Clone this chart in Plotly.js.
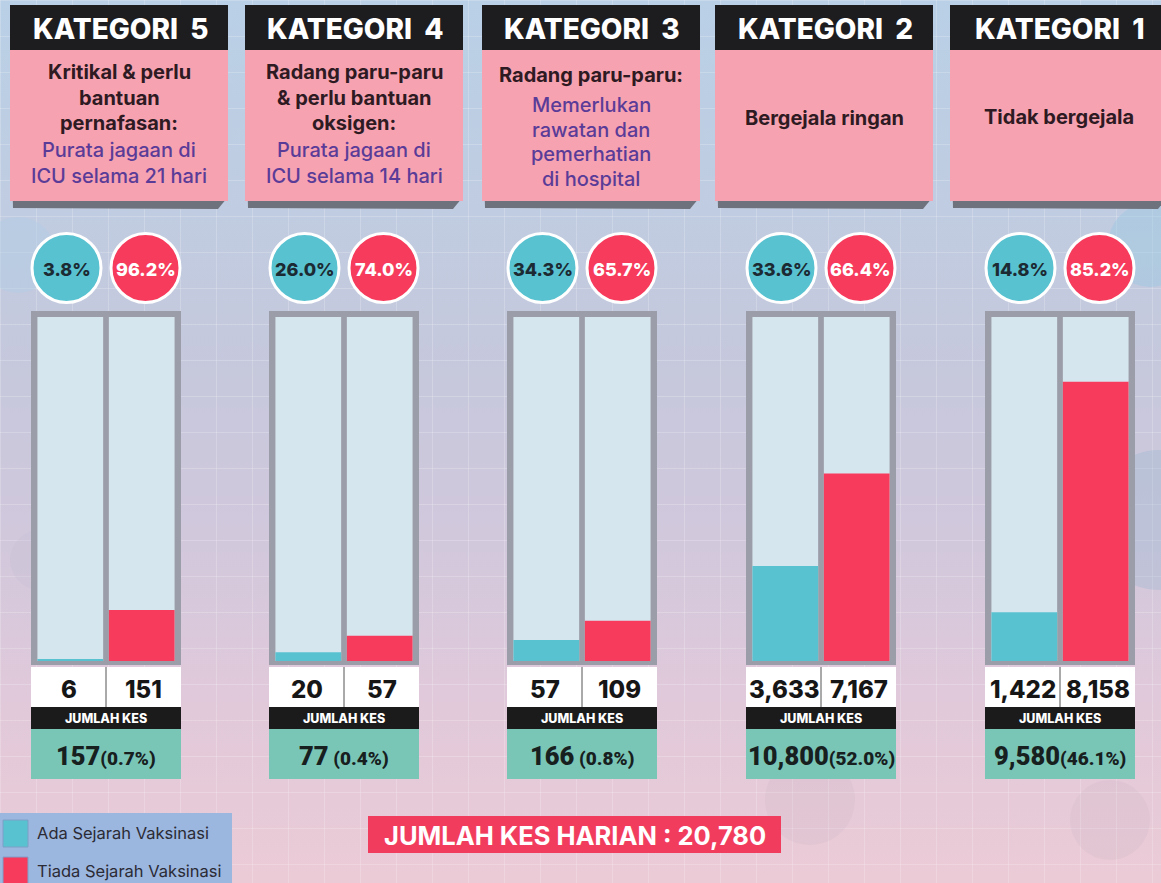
<!DOCTYPE html>
<html>
<head>
<meta charset="utf-8">
<script src="https://cdn.plot.ly/plotly-3.0.1.min.js"></script>
<style>
html,body{margin:0;padding:0;width:1161px;height:883px;overflow:hidden;}
body{background:
 repeating-linear-gradient(to right, rgba(255,255,255,0.20) 0 1px, transparent 1px 36px),
 repeating-linear-gradient(to bottom, rgba(255,255,255,0.20) 0 1px, transparent 1px 36px),
 linear-gradient(to bottom, #b9d0e6 0%, #c0cce1 24%, #c6c8dc 42%, #d2c8dc 62%, #e1c9da 80%, #ebcbd6 100%);}
#chart{width:1161px;height:883px;}
</style>
</head>
<body>
<div id="chart"></div>
<script>
// ---------------- DATA ----------------
const categories   = ['KATEGORI 5', 'KATEGORI 4', 'KATEGORI 3', 'KATEGORI 2', 'KATEGORI 1'];
const seriesNames  = ['Ada Sejarah Vaksinasi', 'Tiada Sejarah Vaksinasi'];
const vaccinated   = [6, 20, 57, 3633, 1422];
const unvaccinated = [151, 57, 109, 7167, 8158];
const pctVacc      = ['3.8%', '26.0%', '34.3%', '33.6%', '14.8%'];
const pctUnvacc    = ['96.2%', '74.0%', '65.7%', '66.4%', '85.2%'];
const totals       = [157, 77, 166, 10800, 9580];
const totalPct     = ['(0.7%)', ' (0.4%)', ' (0.8%)', '(52.0%)', '(46.1%)'];
const descDark     = [
  ['Kritikal & perlu', 'bantuan', 'pernafasan:'],
  ['Radang paru-paru', '& perlu bantuan', 'oksigen:'],
  ['Radang paru-paru:'],
  ['Bergejala ringan'],
  ['Tidak bergejala']
];
const descPurple   = [
  ['Purata jagaan di', 'ICU selama 21 hari'],
  ['Purata jagaan di', 'ICU selama 14 hari'],
  ['Memerlukan', 'rawatan dan', 'pemerhatian', 'di hospital'],
  [],
  []
];
const subLabel     = 'JUMLAH KES';
const dailyLabel   = 'JUMLAH KES HARIAN';
const dailyTotal   = 20780;

// ---------------- LAYOUT GEOMETRY / STYLE ----------------
const W = 1161, H = 883;
const boxLeft    = [31, 269, 507, 746, 985];
const headerLeft = [10, 245, 482, 715, 950];
const yMax       = [1018, 780, 930, 13150, 10050];
const descLineY  = [
  [72, 97.5, 123, 150, 176],
  [72, 97.5, 123, 150, 176],
  [75, 105, 130, 154.5, 179],
  [118],
  [117]
];
const TEAL = '#58c2d0', RED = '#f73b5d', BACK = '#d6e6ef', GRAY = '#9b9ea8';
const FONT = 'Inter, "Open Sans", "DejaVu Sans", sans-serif';
const NUMFONT = 'Roboto, Inter, sans-serif';

const px = x => x / W;
const py = y => 1 - y / H;
const fmt = n => n.toLocaleString('en-US');

function prect(x0, y0, x1, y1, fill, layer, line) {
  return {type: 'rect', xref: 'paper', yref: 'paper',
    x0: px(x0), x1: px(x1), y0: py(y1), y1: py(y0),
    fillcolor: fill, line: line || {width: 0}, layer: layer || 'below'};
}
function pcircle(cx, cy, r, fill, layer, line) {
  return {type: 'circle', xref: 'paper', yref: 'paper', layer: layer || 'below',
    x0: px(cx - r), x1: px(cx + r), y0: py(cy + r), y1: py(cy - r),
    fillcolor: fill, line: line || {width: 0}};
}
function ann(x, y, text, size, color, weight, extra) {
  return Object.assign({xref: 'paper', yref: 'paper', x: px(x), y: py(y), text: text,
    showarrow: false, xanchor: 'center', yanchor: 'middle',
    font: {family: FONT, size: size, color: color, weight: weight}}, extra || {});
}

const traces = [];
const shapes = [];
const annotations = [];
const layout = {
  width: W, height: H,
  margin: {l: 0, r: 0, t: 0, b: 0},
  paper_bgcolor: 'rgba(0,0,0,0)', plot_bgcolor: 'rgba(0,0,0,0)',
  showlegend: false, shapes: shapes, annotations: annotations
};

// faint background silhouettes
shapes.push(pcircle(1150, 245, 42, 'rgba(150,200,225,0.40)'));
shapes.push(pcircle(1160, 520, 70, 'rgba(130,175,205,0.25)'));
shapes.push(pcircle(18, 255, 38, 'rgba(175,205,230,0.40)'));
shapes.push(pcircle(40, 560, 30, 'rgba(190,185,210,0.22)'));
shapes.push(pcircle(810, 800, 45, 'rgba(185,165,185,0.12)'));
shapes.push(pcircle(1110, 820, 40, 'rgba(185,165,185,0.12)'));

categories.forEach((cat, i) => {
  const xa = i ? 'x' + (i + 1) : 'x';
  const ya = i ? 'y' + (i + 1) : 'y';
  const L = boxLeft[i], C = L + 75, R = L + 150;
  layout['xaxis' + (i ? i + 1 : '')] = {domain: [px(L), px(R)], range: [-0.55, 1.55],
    visible: false, fixedrange: true, anchor: ya};
  layout['yaxis' + (i ? i + 1 : '')] = {domain: [py(661), py(317)], range: [0, yMax[i]],
    visible: false, fixedrange: true, anchor: xa};

  traces.push({type: 'bar', x: [0, 1], y: [vaccinated[i], unvaccinated[i]],
    marker: {color: [TEAL, RED], line: {width: 0}}, width: 0.92,
    xaxis: xa, yaxis: ya, hoverinfo: 'skip', name: cat});

  // header note
  const hL = headerLeft[i], hR = hL + 218, hC = hL + 109;
  shapes.push({type: 'path', xref: 'paper', yref: 'paper', layer: 'below',
    path: `M ${px(hL + 1)} ${py(120)} L ${px(hL + 3)} ${py(208)} L ${px(hR - 10)} ${py(209)} L ${px(hR - 1)} ${py(198)} L ${px(hR - 1)} ${py(120)} Z`,
    fillcolor: '#6e727c', line: {width: 0}});
  shapes.push(prect(hL, 48, hR, 201, '#f7a2b1'));
  shapes.push(prect(hL, 5, hR, 50, '#1d1d1f'));
  annotations.push(ann(hC + 1, 29, cat.replace(' ', '\u00A0\u00A0'), 28, '#ffffff', 800));
  const lines = descDark[i].map(t => ({t, c: '#2e1a22', w: 700}))
    .concat(descPurple[i].map(t => ({t, c: '#5a3c98', w: 500})));
  lines.forEach((ln, k) => annotations.push(ann(hC, descLineY[i][k], ln.t, 20, ln.c, ln.w)));

  // percent circles
  [[C - 39.5, pctVacc[i], TEAL, '#1c2a33'], [C + 39.5, pctUnvacc[i], RED, '#ffffff']].forEach(([cx, t, f, tc]) => {
    shapes.push(pcircle(cx, 268, 34.5, f, 'above', {color: '#ffffff', width: 3}));
    annotations.push(ann(cx, 269, t, 18, tc, 800));
  });

  // bar frame
  shapes.push(prect(L, 311, R, 665, GRAY));
  [0, 1].forEach(j => shapes.push({type: 'rect', xref: xa, yref: ya + ' domain',
    x0: j - 0.46, x1: j + 0.46, y0: 0, y1: 1, fillcolor: BACK, line: {width: 0}, layer: 'below'}));

  // numbers row
  shapes.push(prect(L, 667, R, 707, '#ffffff'));
  shapes.push({type: 'line', xref: 'paper', yref: 'paper', layer: 'above',
    x0: px(C), x1: px(C), y0: py(667), y1: py(707), line: {color: '#555555', width: 1}});
  annotations.push(ann(C - 37.5, 689, fmt(vaccinated[i]), 24, '#161616', 800));
  annotations.push(ann(C + 37.5, 689, fmt(unvaccinated[i]), 24, '#161616', 800));
  shapes.push(prect(L, 707, R, 729, '#1b1b1b'));
  annotations.push(ann(C, 718.5, subLabel, 12.5, '#ffffff', 800));
  shapes.push(prect(L, 729, R, 779, '#79c6b7'));
  annotations.push(ann(C, 756, fmt(totals[i]) + '<span style="font-size:19px">' + totalPct[i] + '</span>',
    25.5, '#17201e', 900, {font: {family: NUMFONT, size: 25.5, color: '#17201e', weight: 900}}));
});

// legend box
shapes.push(prect(0, 813, 232, 890, '#9bb6df'));
shapes.push(prect(3, 820, 28, 847, TEAL, 'below', {color: '#7fa0c8', width: 1}));
shapes.push(prect(3, 857, 28, 884, RED, 'below', {color: '#7fa0c8', width: 1}));
annotations.push(ann(35, 833, seriesNames[0], 16.5, '#2b2b35', 400, {xanchor: 'left'}));
annotations.push(ann(35, 871, seriesNames[1], 16.5, '#2b2b35', 400, {xanchor: 'left'}));

// daily total banner
shapes.push(prect(368, 816, 781, 853, '#f23c5e'));
annotations.push(ann(574.5, 835, dailyLabel + ' : ' + fmt(dailyTotal), 25.5, '#ffffff', 700));

Plotly.newPlot('chart', traces, layout, {displayModeBar: false, staticPlot: true});
</script>
</body>
</html>
